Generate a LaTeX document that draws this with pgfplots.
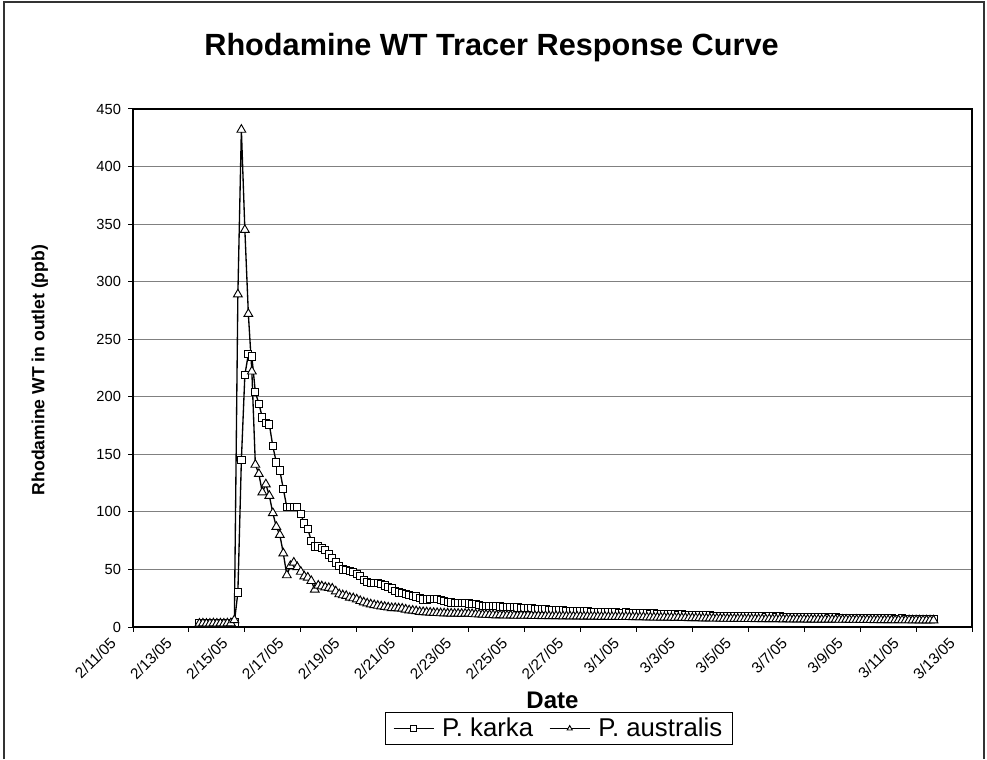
\documentclass[border=0pt]{standalone}
\usepackage{fontspec}
\setmainfont{Liberation Sans}
\usepackage{pgfplots}
\usepackage{pgfplotstable}
\pgfplotsset{compat=1.18}
% k = 3-hour step index since 2/11/05 00:00 (day = k/8)
\pgfplotstableread{
k karka austr
19 3.5 3.0
20 3.4 3.1
21 3.6 2.9
22 3.5 3.0
23 3.3 3.2
24 3.5 3.0
25 3.6 3.1
26 3.4 3.0
27 3.5 3.2
28 3.7 3.3
29 4.0 6.0
30 30 289
31 145 432
32 219 345
33 237 272
34 235 222
35 204 141
36 194 133
37 182 117
38 177 124
39 176 114
40 157 99
41 143 87
42 136 80
43 120 64
44 104 45
45 104 53
46 104 56
47 104 52
48 98 48
49 90 44
50 85 43
51 75 40
52 70 32.5
53 70 36
54 69 35.4
55 67 34.5
56 63 34
57 60 33.4
58 56 31
59 53 28.5
60 50 27.6
61 49.5 27
62 49 25.5
63 48 25
64 46 24
65 44 22.6
66 41 21.5
67 39 20.5
68 38.6 19.7
69 38.5 19
70 38 18.5
71 37.5 18
72 36 17.5
73 35 17
74 33.4 16.5
75 31.5 16.5
76 30 16.2
77 29.5 16
78 29 15.2
79 28 14.5
80 27 14.2
81 26.5 13.8
82 25 13.2
83 24 13
84 24 12.8
85 24.5 12.5
86 24.7 12.3
87 24.3 12.2
88 23.8 12.0
89 22.5 11.9
90 21.7 11.8
91 21.4 11.7
92 21.2 11.6
93 21 11.6
94 21 11.5
95 20.8 11.6
96 20.5 11.6
97 20 11.3
98 19.7 11.1
99 19 11.0
100 18.2 10.8
101 18.0 10.7
102 18.0 10.5
103 18.1 10.4
104 18.0 10.2
105 17.9 10.3
106 17.6 10.1
107 17.2 10.0
108 17.1 10.1
109 17.3 9.9
110 17.0 9.8
111 16.6 9.9
112 16.5 9.8
113 16.6 9.9
114 16.2 9.7
115 15.9 9.6
116 15.9 9.7
117 15.8 9.5
118 15.4 9.6
119 15.0 9.5
120 14.8 9.4
121 15.0 9.5
122 14.7 9.4
123 14.3 9.3
124 14.1 9.4
125 14.2 9.3
126 13.9 9.2
127 13.6 9.3
128 13.5 9.2
129 13.7 9.1
130 13.6 9.2
131 13.2 9.0
132 13.1 9.1
133 13.3 9.0
134 13.2 8.9
135 12.9 9.0
136 12.7 8.9
137 12.9 8.8
138 12.8 8.9
139 12.5 8.8
140 12.4 8.7
141 12.6 8.8
142 12.3 8.7
143 12.1 8.6
144 12.0 8.6
145 12.2 8.5
146 12.0 8.6
147 11.7 8.4
148 11.6 8.4
149 11.8 8.3
150 11.6 8.3
151 11.3 8.2
152 11.2 8.3
153 11.4 8.1
154 11.2 8.1
155 10.9 8.0
156 10.8 8.1
157 11.0 7.9
158 10.8 7.9
159 10.5 7.8
160 10.5 7.8
161 10.6 7.7
162 10.3 7.7
163 10.1 7.6
164 10.2 7.5
165 10.1 7.5
166 9.8 7.4
167 9.7 7.4
168 9.9 7.3
169 9.7 7.2
170 9.6 7.2
171 9.8 7.2
172 9.6 7.1
173 9.4 7.1
174 9.5 7.2
175 9.6 7.0
176 9.3 7.0
177 9.2 7.0
178 9.4 6.9
179 9.3 7.0
180 9.1 6.9
181 9.0 6.8
182 9.2 6.9
183 9.1 6.8
184 9.0 6.8
185 9.1 6.8
186 8.8 6.7
187 8.7 6.8
188 8.9 6.7
189 8.8 6.6
190 8.6 6.7
191 8.5 6.6
192 8.7 6.6
193 8.6 6.5
194 8.4 6.6
195 8.3 6.5
196 8.5 6.5
197 8.4 6.4
198 8.2 6.5
199 8.1 6.4
200 8.2 6.4
201 8.3 6.4
202 8.1 6.3
203 7.9 6.3
204 8.0 6.4
205 8.1 6.2
206 7.9 6.2
207 7.8 6.3
208 7.9 6.2
209 7.8 6.1
210 7.6 6.2
211 7.6 6.1
212 7.8 6.0
213 7.6 6.1
214 7.5 6.0
215 7.4 6.0
216 7.5 6.0
217 7.5 6.0
218 7.3 5.9
219 7.2 6.0
220 7.4 5.9
221 7.2 5.9
222 7.1 5.9
223 7.0 5.8
224 7.2 5.9
225 7.0 5.8
226 6.9 5.8
227 6.9 5.8
228 6.8 5.8
229 6.8 5.8
}\datatable

\begin{document}
\begin{tikzpicture}[x=1pt,y=1pt]
\useasboundingbox (-99.75,-99) rectangle (640.5,470.25);
\begin{axis}[
  at={(0,0)}, anchor=south west,
  scale only axis, width=629.25pt, height=388.5pt,
  xmin=0, xmax=30, ymin=0, ymax=450,
  xtick={0,2,...,30},
  xticklabels={2/11/05,2/13/05,2/15/05,2/17/05,2/19/05,2/21/05,2/23/05,2/25/05,2/27/05,3/1/05,3/3/05,3/5/05,3/7/05,3/9/05,3/11/05,3/13/05},
  ytick={0,50,...,450},
  ymajorgrids,
  major grid style={gray, line width=0.75pt},
  axis line style={black, line width=0.9pt},
  tick align=outside, xtick pos=bottom, ytick pos=left,
  major tick length=3.5pt,
  tick style={black, line width=0.75pt},
  /pgf/number format/assume math mode=true,
  xticklabel style={xshift=-18pt, yshift=-2pt, rotate=45, anchor=north east, font=\fontsize{11.5}{13}\selectfont, inner sep=1pt},
  yticklabel style={font=\fontsize{11}{13}\selectfont, xshift=-2pt},
  title={Rhodamine WT Tracer Response Curve},
  title style={at={(axis description cs:0.4273,1.104)}, anchor=center, font=\fontsize{23}{26}\selectfont\bfseries},
  xlabel={Date},
  xlabel style={at={(axis description cs:0.5,-0.141)}, anchor=center, font=\fontsize{18}{21}\selectfont\bfseries},
  ylabel={Rhodamine WT in outlet (ppb)},
  ylabel style={at={(axis description cs:-0.111,0.496)}, anchor=center, font=\fontsize{13.2}{15}\selectfont\bfseries},
  legend style={at={(axis description cs:0.5077,-0.196)}, anchor=center, draw=black, line width=0.75pt,
    legend columns=2, font=\fontsize{19.3}{22}\selectfont, inner xsep=6pt, inner ysep=2pt,
    /tikz/every odd column/.append style={column sep=4pt},
    /tikz/every even column/.append style={column sep=10pt}},
  legend image code/.code={\draw[mark repeat=2, mark phase=2, #1] plot coordinates {(0pt,0pt) (15pt,0pt) (30pt,0pt)};},
  legend image post style={mark size=2.2pt, line width=0.8pt},
  legend cell align=left,
]
\addplot[black, line width=1pt, mark=square*, mark size=2.7pt,
  mark options={solid, fill=white, draw=black, line width=0.7pt}]
  table[x expr=\thisrow{k}/8, y=karka] {\datatable};
\addlegendentry{P. karka}
\addplot[black, line width=1pt, mark=triangle*, mark size=3.8pt,
  mark options={solid, fill=white, draw=black, line width=0.7pt}]
  table[x expr=\thisrow{k}/8, y=austr] {\datatable};
\addlegendentry{P. australis}
\end{axis}
\draw[black!80, line width=0.9pt] (-96.75,-99) -- (-96.75,468.75) -- (638.25,468.75) -- (638.25,-99);
\end{tikzpicture}
\end{document}
